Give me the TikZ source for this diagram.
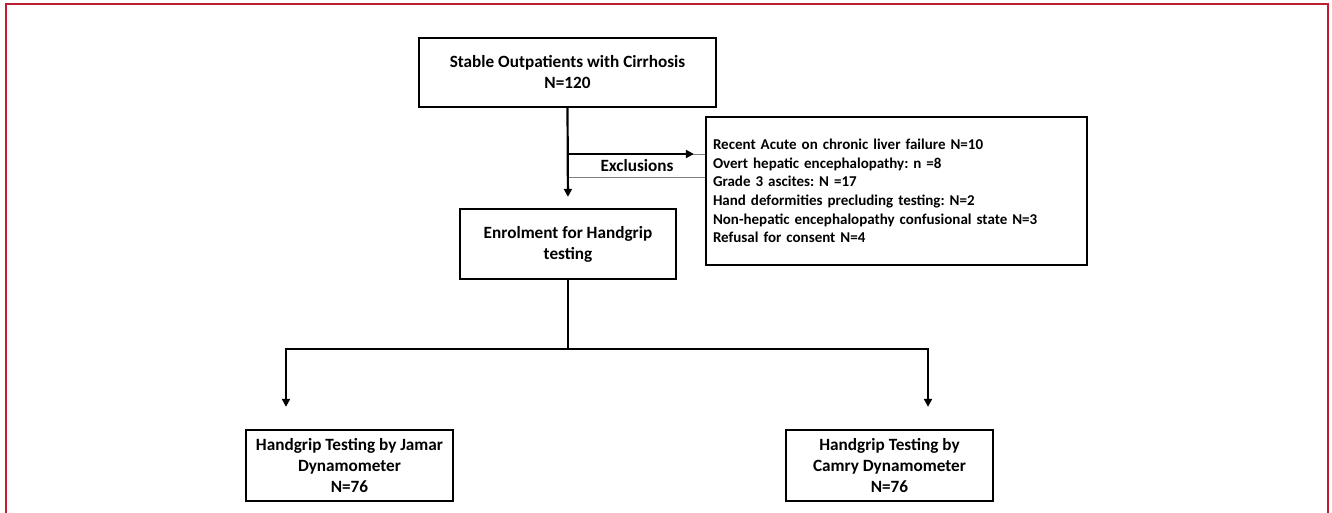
\documentclass[tikz,border=0pt]{standalone}
\usepackage{fontspec}
\setmainfont{Carlito}
\frenchspacing
\usepackage{tikz}
\usetikzlibrary{%
		arrows.meta%
	}
\definecolor{framered}{RGB}{190,30,50}
\tikzset{
	box/.style={draw,line width=2.3pt,align=center,inner sep=0pt,font=\bfseries\fontsize{17.2}{21}\selectfont},
	link/.style={line width=2.2pt},
	tip/.style={-{Triangle[length=8pt,width=8pt]}},
}

\begin{document}
\begin{tikzpicture}[x=1pt,y=-1pt]
			\useasboundingbox (0,0) rectangle (1332,513);
			\draw[framered,line width=2pt] (6,513) -- (6,4) -- (1328,4) -- (1328,513);
			% boxes
			\node[box,minimum width=297pt,minimum height=69pt] (cohort) at (567.5,72.5) {Stable Outpatients with Cirrhosis\\N=120};
			\node[box,minimum width=216pt,minimum height=70pt] (enrol) at (568,244) {Enrolment for Handgrip\\testing};
			\node[box,minimum width=381pt,minimum height=148pt,text width=367pt,inner xsep=7pt,align=left,font=\bfseries\fontsize{15}{18.6}\selectfont] (excl) at (896.5,191) {Recent Acute on chronic liver failure N=10\\Overt hepatic encephalopathy: n =8\\Grade 3 ascites: N =17\\Hand deformities precluding testing: N=2\\Non-hepatic encephalopathy confusional state N=3\\Refusal for consent N=4};
			\node[box,minimum width=207pt,minimum height=71pt] (jamar) at (349.5,465.5) {Handgrip Testing by Jamar\\Dynamometer\\N=76};
			\node[box,minimum width=207pt,minimum height=71pt] (camry) at (889.5,465.5) {Handgrip Testing by\\Camry Dynamometer\\N=76};
			% exclusions
			\coordinate (exclin) at (568,154);
			\coordinate (exclout) at (568,177);
			\draw[gray] (exclin) -- (exclin -| excl.west);
			\draw[gray] (exclout) -- (exclout -| excl.west);
			\draw[link,tip,shorten >=11pt] (exclin) -- (exclin -| excl.west);
			\node[font=\bfseries\fontsize{17.2}{21}\selectfont] (exclabel) at (637,166) {Exclusions};
			\draw[link,tip,shorten >=11pt] (cohort.south) -- (enrol.north);
			% split
			\coordinate (split) at (568,349);
			\draw[link] (enrol.south) -- (split);
			\draw[link,tip,shorten >=22pt] (split) -| ([xshift=-63.5pt]jamar.north);
			\draw[link,tip,shorten >=22pt] (split) -| ([xshift=38.5pt]camry.north);
		\end{tikzpicture}
\end{document}
